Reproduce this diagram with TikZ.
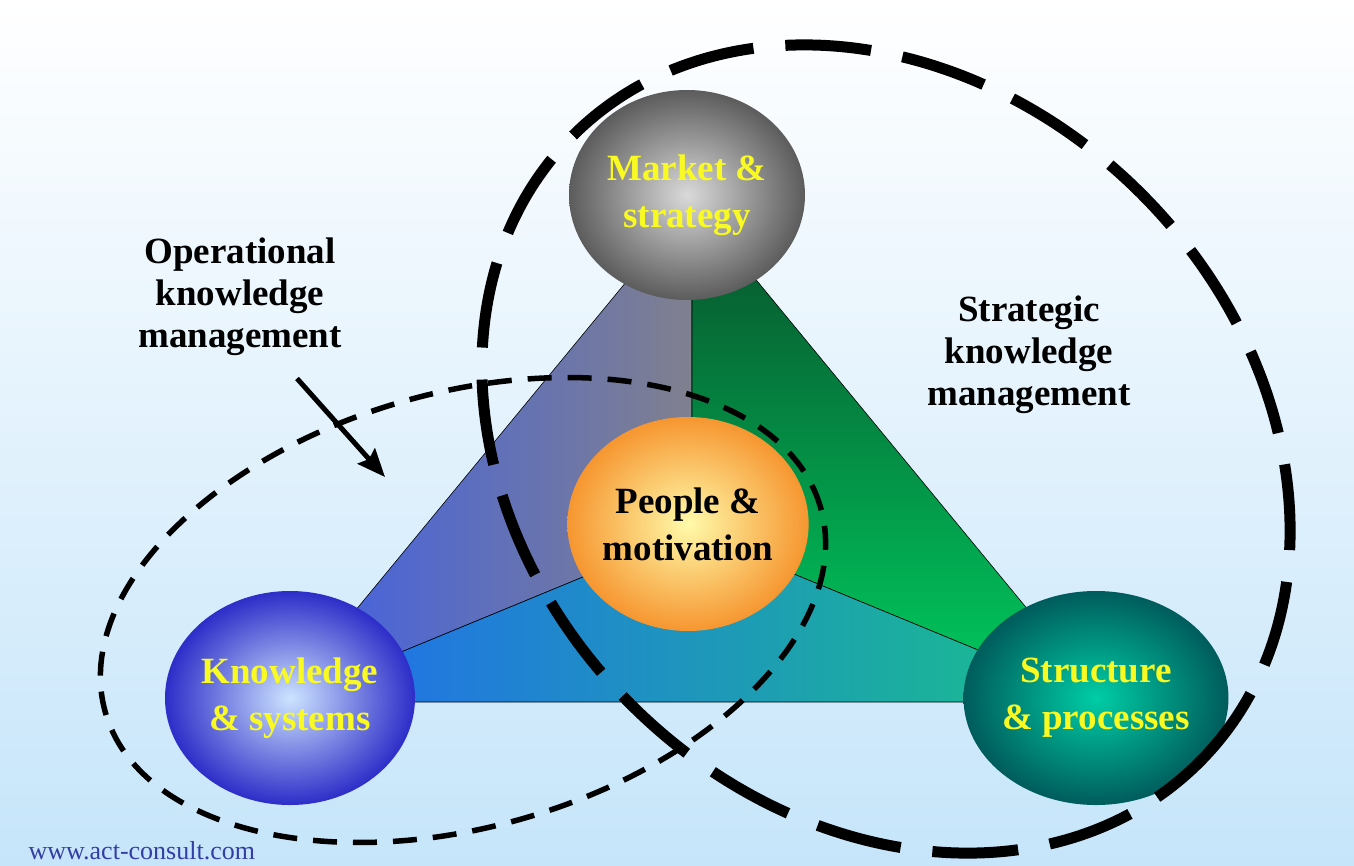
\documentclass[tikz,border=0pt]{standalone}
\usepackage{fontspec}
\setmainfont{Liberation Serif}
\usetikzlibrary{shapes.geometric, arrows.meta}
\definecolor{skyblue}{RGB}{198,229,250}
\definecolor{kmyellow}{RGB}{250,250,35}
\definecolor{webblue}{RGB}{50,62,165}
% sphere colours
\definecolor{mktin}{RGB}{218,218,218}
\definecolor{mktout}{RGB}{92,92,92}
\definecolor{ksin}{RGB}{205,228,255}
\definecolor{ksout}{RGB}{45,45,200}
\definecolor{spin}{RGB}{0,205,165}
\definecolor{spout}{RGB}{0,92,92}
\definecolor{pmin}{RGB}{255,250,170}
\definecolor{pmout}{RGB}{246,150,48}
% triangle colours
\definecolor{wblue}{RGB}{62,94,232}
\definecolor{wgrey}{RGB}{128,128,142}
\definecolor{wdkgreen}{RGB}{8,78,42}
\definecolor{wgreen}{RGB}{0,205,95}
\definecolor{wbblue}{RGB}{35,105,240}
\definecolor{wteal}{RGB}{25,195,135}
\tikzset{
  % Shaded sphere node
  sphere/.style 2 args={shape=ellipse, minimum width=236pt,
    minimum height=214pt, inner sep=0pt, align=center,
    font=\fontsize{37}{47}\selectfont\bfseries, text=kmyellow,
    shade, inner color=#1, outer color=#2},
  % Triangle segment
  wedge/.style={draw=black, line width=0.6pt},
  % Text labels
  kmlabel/.style={align=center, font=\fontsize{37}{42}\selectfont\bfseries},
  % Dashed rings
  opring/.style={draw=black, line width=5.5pt, dash pattern=on 24pt off 16pt},
  stratring/.style={draw=black, line width=11pt, dash pattern=on 86pt off 32pt},
  % Arrow
  pointer/.style={line width=5pt, -{Stealth[length=28pt, width=23pt, inset=4pt]}},
}

\begin{document}
\begin{tikzpicture}[x=1pt, y=-1pt]
  \shade[top color=white, bottom color=skyblue] (0,0) rectangle (1354,865);
  \useasboundingbox (0,0) rectangle (1354,865);

  \coordinate (apex) at (692,202);
  \coordinate (left) at (280,702);
  \coordinate (right) at (1104,702);
  \coordinate (mid) at (692,532);

  \shadedraw[wedge, left color=wblue, right color=wgrey]
    (apex) -- (left) -- (mid) -- cycle;
  \shadedraw[wedge, top color=wdkgreen, bottom color=wgreen]
    (apex) -- (right) -- (mid) -- cycle;
  \shadedraw[wedge, left color=wbblue, right color=wteal]
    (left) -- (right) -- (mid) -- cycle;

  \node[sphere={mktin}{mktout}, minimum height=210pt] (market) at (687,195)
    {Market \&\\strategy};
  \node[sphere={ksin}{ksout}] (knowsys) at (290,698) {Knowledge\\\& systems};
  \node[sphere={spin}{spout}] (structproc) at (1096,698) {Structure\\\& processes};
  \node[sphere={pmin}{pmout}, text=black] (people) at (688,524) {People \&\\motivation};

  \coordinate (opc) at (463,610);
  \coordinate (stc) at (886,449);
  \draw[opring] (opc) ellipse [x radius=372pt, y radius=217pt, rotate=16];
  \draw[stratring] (stc) ellipse [x radius=443pt, y radius=361pt, rotate=-45];

  \node[kmlabel] (opkm) at (240,297) {Operational\\knowledge\\management};
  \node[kmlabel] (stkm) at (1029,355) {Strategic\\knowledge\\management};

  \coordinate (optip) at (385,477);
  \draw[pointer] ([shift={(57,19)}]opkm.south) -- (optip);

  \node[anchor=base west, font=\fontsize{26}{30}\selectfont, text=webblue]
    (site) at (25,859) {www.act-consult.com};
\end{tikzpicture}
\end{document}
